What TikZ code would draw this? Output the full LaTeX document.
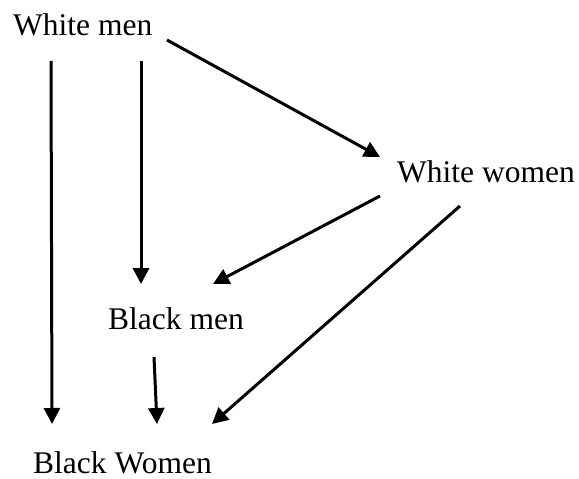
\documentclass[tikz,border=0pt]{standalone}
\usepackage{fontspec}
\setmainfont{Liberation Serif}
\usetikzlibrary{arrows.meta}
\begin{document}
\begin{tikzpicture}[x=1pt,y=-1pt,
  label/.style={anchor=base west,inner sep=0pt,font=\fontsize{31.5}{36}\selectfont},
  link/.style={line width=3pt,-{Triangle[length=16pt,width=16pt]}}]
\useasboundingbox (0,0) rectangle (579,479);
% group labels
\node[label] (wm) at (13,35) {White men};
\node[label] (ww) at (397,182) {White women};
\node[label] (bm) at (108,329) {Black men};
\node[label] (bw) at (33,473) {Black Women};
% connector end points
\coordinate (wmA) at (51,61);
\coordinate (wmB) at (141,61);
\coordinate (wmC) at (167,40);
\coordinate (wwA) at (380,196);
\coordinate (wwB) at (460,206);
\coordinate (bmA) at (154,357);
\coordinate (wwIn) at (380,157);
\coordinate (bmIn1) at (141,284);
\coordinate (bmIn2) at (213,284);
\coordinate (bwIn1) at (52,424);
\coordinate (bwIn2) at (157,424);
\coordinate (bwIn3) at (212,424);
% influence arrows
\draw[link] (wmC) -- (wwIn);
\draw[link] (wmA) -- (bwIn1);
\draw[link] (wmB) -- (bmIn1);
\draw[link] (wwA) -- (bmIn2);
\draw[link] (bmA) -- (bwIn2);
\draw[link] (wwB) -- (bwIn3);
\end{tikzpicture}
\end{document}
